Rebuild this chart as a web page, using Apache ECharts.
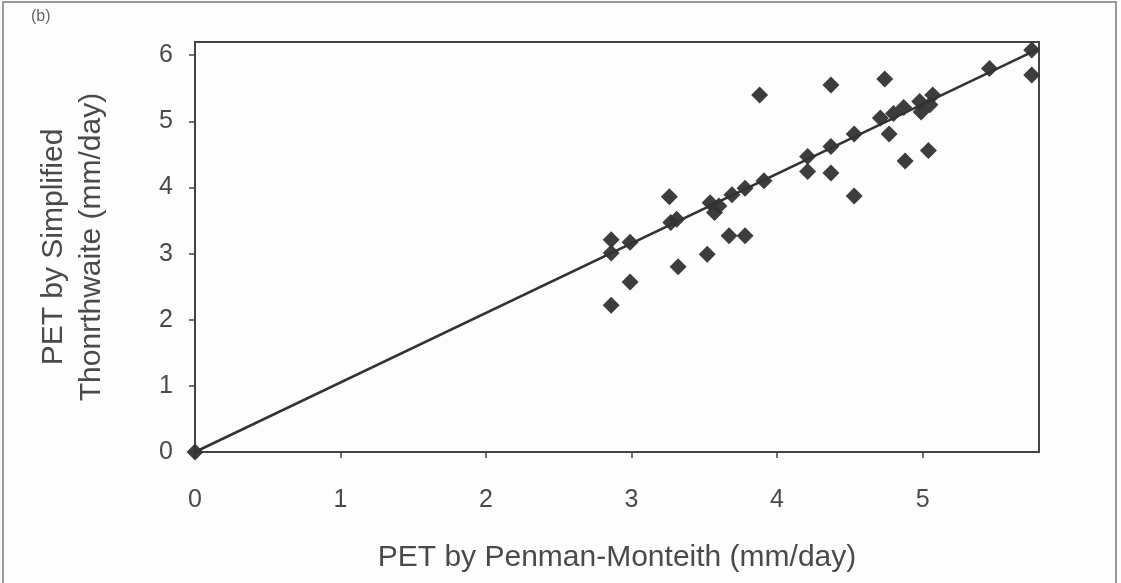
<!DOCTYPE html>
<html>
<head>
<meta charset="utf-8">
<script src="https://cdn.jsdelivr.net/npm/echarts@6/dist/echarts.min.js"></script>
<style>
  html, body { margin: 0; padding: 0; background: #fdfdfd; }
  #chart { width: 1121px; height: 583px; }
</style>
</head>
<body>
<div id="chart"></div>
<script>
// PET by Penman-Monteith (x) vs PET by Simplified Thornthwaite (y), mm/day
const pmValues = [
  0,
  2.86, 2.86, 2.86, 2.99, 2.99,
  3.26, 3.27, 3.31, 3.32,
  3.52, 3.54, 3.57, 3.60,
  3.67, 3.78, 3.69, 3.78,
  3.88, 3.91,
  4.21, 4.21, 4.37, 4.37, 4.37,
  4.53, 4.53,
  4.74, 4.71, 4.77, 4.80, 4.87, 4.88,
  4.98, 4.99, 5.04, 5.05, 5.07,
  5.46, 5.75, 5.75
]
const thValues = [
  0,
  3.21, 3.01, 2.22, 3.17, 2.57,
  3.86, 3.47, 3.52, 2.80,
  2.99, 3.77, 3.62, 3.72,
  3.27, 3.27, 3.89, 3.99,
  5.40, 4.10,
  4.47, 4.24, 4.62, 4.22, 5.55,
  4.81, 3.87,
  5.64, 5.05, 4.81, 5.12, 5.21, 4.40,
  5.30, 5.14, 4.56, 5.25, 5.40,
  5.80, 6.08, 5.70
]
// fitted line end points
const lineX = [0, 5.8]
const lineY = [0, 6.1]

const xTicks = [0, 1, 2, 3, 4, 5]
const yTicks = [0, 1, 2, 3, 4, 5, 6]

const chart = echarts.init(document.getElementById('chart'))

const textColor = '#4a4a4a'
const axisColor = '#444'

const option = {
  backgroundColor: '#fdfdfd',
  animation: false,
  textStyle: { fontFamily: 'Liberation Sans, Arial, sans-serif' },
  graphic: [
    {
      type: 'rect',
      shape: { x: 3, y: 2, width: 1113, height: 590 },
      style: { fill: 'none', stroke: '#9a9a9a', lineWidth: 2 }
    },
    {
      type: 'text',
      left: 31,
      top: 9,
      style: { text: '(b)', fill: '#666', fontSize: 16, fontFamily: 'Liberation Sans, Arial, sans-serif' }
    }
  ],
  grid: {
    left: 195,
    right: 82,
    top: 42,
    bottom: 131,
    show: true,
    borderColor: axisColor,
    borderWidth: 2,
    backgroundColor: 'transparent'
  },
  xAxis: {
    type: 'value',
    min: 0,
    max: 5.8,
    interval: 1,
    name: 'PET by Penman-Monteith (mm/day)',
    nameLocation: 'middle',
    nameGap: 91,
    nameTextStyle: { color: textColor, fontSize: 30 },
    axisLine: { show: true, lineStyle: { color: axisColor, width: 2 } },
    axisTick: { show: true, length: 6, inside: false, lineStyle: { color: axisColor, width: 1.5 } },
    axisLabel: {
      color: textColor,
      fontSize: 25,
      margin: 36,
      showMaxLabel: false,
      formatter: v => (xTicks.includes(v) ? String(v) : '')
    },
    splitLine: { show: false }
  },
  yAxis: {
    type: 'value',
    min: 0,
    max: 6.2,
    interval: 1,
    name: 'PET by Simplified\nThonrthwaite (mm/day)',
    nameLocation: 'middle',
    nameGap: 84,
    nameRotate: 90,
    nameTextStyle: { color: textColor, fontSize: 30, lineHeight: 38 },
    axisLine: { show: true, lineStyle: { color: axisColor, width: 2 } },
    axisTick: { show: true, length: 6, lineStyle: { color: axisColor, width: 1.5 } },
    axisLabel: {
      color: textColor,
      fontSize: 25,
      margin: 22,
      showMaxLabel: false,
      formatter: v => (yTicks.includes(v) ? String(v) : '')
    },
    splitLine: { show: false }
  },
  series: [
    {
      type: 'line',
      data: lineX.map((x, i) => [x, lineY[i]]),
      symbol: 'none',
      lineStyle: { color: '#333', width: 2.5 },
      z: 2
    },
    {
      type: 'scatter',
      data: pmValues.map((x, i) => [x, thValues[i]]),
      symbol: 'diamond',
      symbolSize: [17, 17],
      itemStyle: { color: '#333', opacity: 0.95 },
      z: 3
    }
  ]
}

chart.setOption(option)
window.addEventListener('resize', () => chart.resize())
</script>
</body>
</html>
